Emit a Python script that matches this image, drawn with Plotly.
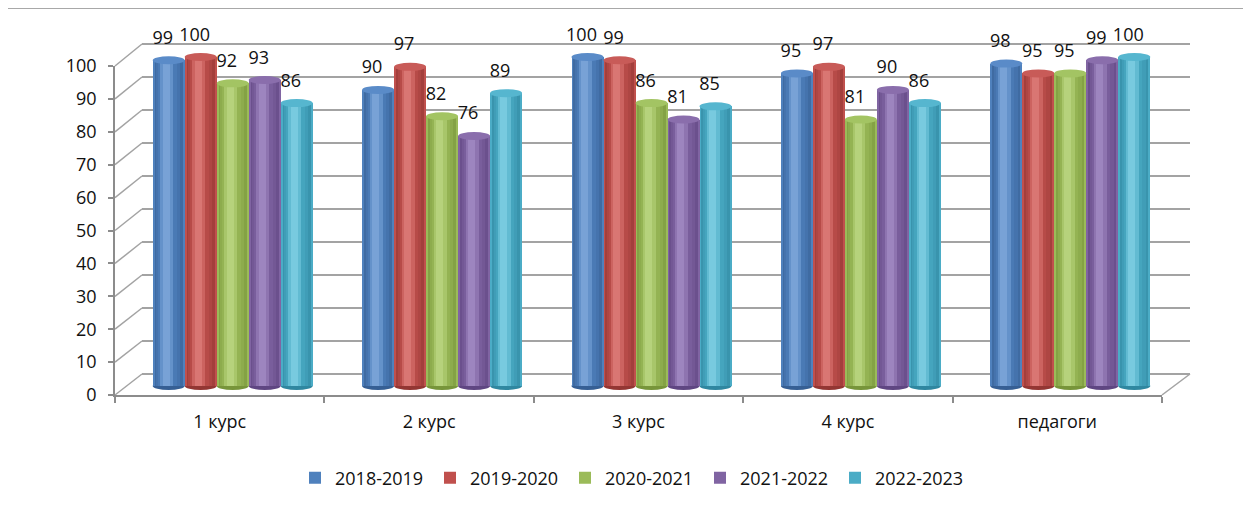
import plotly.graph_objects as go

# ---------------- data ----------------
categories = ["1 курс", "2 курс", "3 курс", "4 курс", "педагоги"]
series_names = ["2018-2019", "2019-2020", "2020-2021", "2021-2022", "2022-2023"]
values_2018_2019 = [99, 90, 100, 95, 98]
values_2019_2020 = [100, 97, 99, 97, 95]
values_2020_2021 = [92, 82, 86, 81, 95]
values_2021_2022 = [93, 76, 81, 90, 99]
values_2022_2023 = [86, 89, 85, 86, 100]
y_ticks = list(range(0, 101, 10))

series_values = [values_2018_2019, values_2019_2020, values_2020_2021,
                 values_2021_2022, values_2022_2023]

# ---------------- styles ----------------
main_colors = ["#4F81BD", "#C0504D", "#9BBB59", "#8064A2", "#4BACC6"]
edge_colors = ["#365F94", "#933633", "#77953A", "#5F4682", "#2F87A0"]
light_colors = ["#78A2D6", "#D97673", "#B6D27C", "#9D85BF", "#78CADF"]
cap_colors = ["#5A8BC8", "#C85B58", "#A3C463", "#8A6EAC", "#56B6CF"]

PAGE_OFF = 8                 # body margin of the page
W, H = 1251 - PAGE_OFF, 508 - PAGE_OFF
FONT = "Open Sans"
PX_PER_UNIT = 3.29
CAT_PX = 209.4


def fx(px):
    return (px - PAGE_OFF) / W


def fy(py):
    return (H - (py - PAGE_OFF)) / H


def hex2rgb(h):
    h = h.lstrip("#")
    return [int(h[k:k + 2], 16) for k in (0, 2, 4)]


def mix(c1, c2, t):
    a, b = hex2rgb(c1), hex2rgb(c2)
    return "rgb({},{},{})".format(*[round(a[k] + (b[k] - a[k]) * t) for k in range(3)])


# bar subplot geometry (page pixels)
bar_dom_x = (100, 1200)
bar_center0 = 232.7
bar_dom_y = (20, 405)
bar_zero_px = 386
x2_range = [(bar_dom_x[0] - bar_center0) / CAT_PX, (bar_dom_x[1] - bar_center0) / CAT_PX]
y2_range = [-(bar_dom_y[1] - bar_zero_px) / PX_PER_UNIT, (bar_zero_px - bar_dom_y[0]) / PX_PER_UNIT]

bw = 32 / CAT_PX          # width of one cylinder (category units)
cap_h = 4 / PX_PER_UNIT   # half height of the elliptical caps
label_dy = 21 / PX_PER_UNIT
label_dx = -6 / CAT_PX

fig = go.Figure()
xs = list(range(len(categories)))

# invisible trace to build the front category axis
fig.add_trace(go.Scatter(x=categories, y=[0] * len(categories), mode="markers",
                         marker=dict(opacity=0), showlegend=False, hoverinfo="skip",
                         xaxis="x", yaxis="y"))

# shading layers: (width fraction, centre shift in bar widths, colour stop)
layers = [
    (1.00, 0.00, 0.0),
    (0.88, 0.00, 0.35),
    (0.74, -0.02, 0.6),
    (0.58, -0.04, 0.8),
    (0.40, -0.06, 1.0),
    (0.22, -0.08, 1.25),
]
for li, (frac, shift, stop) in enumerate(layers):
    for j, (name, vals) in enumerate(zip(series_names, series_values)):
        center = (j - 2) * bw
        width = bw * frac
        if stop < 1.0:
            color = mix(edge_colors[j], main_colors[j], stop)
        elif stop == 1.0:
            color = mix(main_colors[j], light_colors[j], 0.5)
        else:
            color = light_colors[j]
        fig.add_trace(go.Bar(
            x=xs, y=vals, name=name,
            width=[width] * len(xs), offset=center + shift * bw - width / 2,
            marker=dict(color=(main_colors[j] if li == 0 else color), line=dict(width=0)),
            showlegend=(li == 0), legendgroup=name,
            hoverinfo="skip", xaxis="x2", yaxis="y2",
        ))

# data labels
for j, (name, vals) in enumerate(zip(series_names, series_values)):
    fig.add_trace(go.Scatter(
        x=[i + (j - 2) * bw + label_dx for i in xs],
        y=[v + label_dy for v in vals],
        text=[str(v) for v in vals], mode="text", textposition="middle center",
        textfont=dict(family=FONT, size=18, color="#111111"),
        showlegend=False, hoverinfo="skip", xaxis="x2", yaxis="y2", cliponaxis=False,
    ))

shapes = []
grid_col = "#A3A3A3"
front_left, front_right = 115, 1162
back_left, back_right = 142, 1190
front_zero, back_zero = 395, 374
back_scale = 3.3

# back wall gridlines + left wall diagonals
for v in y_ticks:
    yb = back_zero - back_scale * v
    yf = front_zero - PX_PER_UNIT * v
    shapes.append(dict(type="line", xref="paper", yref="paper", layer="below",
                       x0=fx(back_left), x1=fx(back_right), y0=fy(yb), y1=fy(yb),
                       line=dict(color=grid_col, width=2)))
    shapes.append(dict(type="line", xref="paper", yref="paper", layer="below",
                       x0=fx(front_left), x1=fx(back_left), y0=fy(yf), y1=fy(yb),
                       line=dict(color=grid_col, width=1.5)))
# right floor diagonal
shapes.append(dict(type="line", xref="paper", yref="paper", layer="below",
                   x0=fx(front_right), x1=fx(back_right), y0=fy(front_zero), y1=fy(back_zero),
                   line=dict(color=grid_col, width=1.5)))

# cylinder caps
for j, vals in enumerate(series_values):
    for i, v in enumerate(vals):
        c = i + (j - 2) * bw
        shapes.append(dict(type="circle", xref="x2", yref="y2", layer="below",
                           x0=c - bw / 2, x1=c + bw / 2, y0=-cap_h, y1=cap_h,
                           fillcolor=edge_colors[j], line=dict(width=0)))
        shapes.append(dict(type="circle", xref="x2", yref="y2", layer="above",
                           x0=c - bw / 2, x1=c + bw / 2, y0=v - cap_h, y1=v + cap_h,
                           fillcolor=cap_colors[j], line=dict(width=0)))

# outer frame
shapes.append(dict(type="rect", xref="paper", yref="paper", layer="above",
                   x0=fx(7), x1=1.02, y0=fy(8), y1=-0.05,
                   line=dict(color="#8C8C8C", width=1.5), fillcolor="rgba(0,0,0,0)"))

fig.update_layout(
    width=W, height=H,
    margin=dict(l=0, r=0, t=0, b=0, autoexpand=False),
    paper_bgcolor="white", plot_bgcolor="rgba(0,0,0,0)",
    barmode="overlay", bargap=0,
    font=dict(family=FONT, size=18, color="#111111"),
    shapes=shapes,
    xaxis=dict(domain=[fx(front_left), fx(front_right)], type="category",
               categoryorder="array", categoryarray=categories, range=[-0.5, 4.5],
               anchor="y", showgrid=False, zeroline=False, showline=True,
               linecolor="#8C8C8C", linewidth=1.5, ticks="outside", tickson="boundaries",
               ticklen=6, tickcolor="#8C8C8C", tickwidth=1.5, ticklabelstandoff=10,
               tickfont=dict(family=FONT, size=18, color="#111111"), fixedrange=True),
    yaxis=dict(domain=[fy(front_zero), fy(front_zero - PX_PER_UNIT * 100)], range=[0, 100],
               anchor="x", tickvals=y_ticks, showgrid=False, zeroline=False, showline=True,
               linecolor="#8C8C8C", linewidth=1.5, ticks="outside", ticklen=5,
               tickcolor="#8C8C8C", tickwidth=1.5, ticklabelstandoff=8,
               tickfont=dict(family=FONT, size=18, color="#111111"), fixedrange=True),
    xaxis2=dict(domain=[fx(bar_dom_x[0]), fx(bar_dom_x[1])], range=x2_range, anchor="y2",
                visible=False, fixedrange=True),
    yaxis2=dict(domain=[fy(bar_dom_y[1]), fy(bar_dom_y[0])], range=y2_range, anchor="x2",
                visible=False, fixedrange=True),
    legend=dict(orientation="h", x=fx(295), xanchor="left", y=fy(478), yanchor="middle",
                font=dict(family=FONT, size=18, color="#111111"),
                entrywidth=90, entrywidthmode="pixels", bgcolor="rgba(0,0,0,0)",
                traceorder="normal"),
)

fig.write_html("out.html")
